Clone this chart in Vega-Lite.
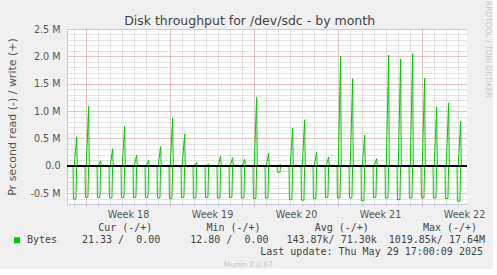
{
  "$schema": "https://vega.github.io/schema/vega-lite/v6.json",
  "background": "#F0F0F0",
  "padding": {"left": 6, "top": 1, "right": 0, "bottom": 0},
  "title": {"text": "Disk throughput for /dev/sdc - by month", "font": "DejaVu Sans", "fontSize": 12.5, "fontWeight": "normal", "color": "#444444", "anchor": "middle", "baseline": "alphabetic", "offset": -36},
  "config": {"view": {"stroke": null}, "font": "DejaVu Sans"},
  "spacing": 4,
  "vconcat": [
    {
      "width": 400,
      "height": 175,
      "view": {"fill": "white", "stroke": null},
      "title": {"text": "RRDTOOL / TOBI OETIKER", "orient": "right", "anchor": "start", "fontSize": 7.5, "fontWeight": "normal", "color": "#C8C8C8", "offset": 0, "dx": -23},
      "data": {"values": [
        {"t": -1.583, "s": "read", "v": 0}, {"t": -1.583, "s": "write", "v": 0},
        {"t": 31.75, "s": "read", "v": 0}, {"t": 31.75, "s": "write", "v": 0},
        {"t": -1.08, "s": "read", "v": 0}, {"t": -1.05, "s": "read", "v": -610000}, {"t": -0.84, "s": "read", "v": -610000}, {"t": -0.78, "s": "read", "v": 0},
        {"t": -0.98, "s": "write", "v": 0}, {"t": -0.78, "s": "write", "v": 530000}, {"t": -0.73, "s": "write", "v": 0},
        {"t": -0.08, "s": "read", "v": 0}, {"t": -0.05, "s": "read", "v": -580000}, {"t": 0.16, "s": "read", "v": -580000}, {"t": 0.22, "s": "read", "v": 0},
        {"t": 0.02, "s": "write", "v": 0}, {"t": 0.22, "s": "write", "v": 1085000}, {"t": 0.27, "s": "write", "v": 0},
        {"t": 0.92, "s": "read", "v": 0}, {"t": 0.95, "s": "read", "v": -580000}, {"t": 1.16, "s": "read", "v": -580000}, {"t": 1.22, "s": "read", "v": 0},
        {"t": 1.02, "s": "write", "v": 0}, {"t": 1.22, "s": "write", "v": 90000}, {"t": 1.27, "s": "write", "v": 0},
        {"t": 1.92, "s": "read", "v": 0}, {"t": 1.95, "s": "read", "v": -590000}, {"t": 2.16, "s": "read", "v": -590000}, {"t": 2.22, "s": "read", "v": 0},
        {"t": 2.02, "s": "write", "v": 0}, {"t": 2.22, "s": "write", "v": 310000}, {"t": 2.27, "s": "write", "v": 0},
        {"t": 2.92, "s": "read", "v": 0}, {"t": 2.95, "s": "read", "v": -580000}, {"t": 3.16, "s": "read", "v": -580000}, {"t": 3.22, "s": "read", "v": 0},
        {"t": 3.02, "s": "write", "v": 0}, {"t": 3.22, "s": "write", "v": 720000}, {"t": 3.27, "s": "write", "v": 0},
        {"t": 3.92, "s": "read", "v": 0}, {"t": 3.95, "s": "read", "v": -580000}, {"t": 4.16, "s": "read", "v": -580000}, {"t": 4.22, "s": "read", "v": 0},
        {"t": 4.02, "s": "write", "v": 0}, {"t": 4.22, "s": "write", "v": 190000}, {"t": 4.27, "s": "write", "v": 0},
        {"t": 4.92, "s": "read", "v": 0}, {"t": 4.95, "s": "read", "v": -580000}, {"t": 5.16, "s": "read", "v": -580000}, {"t": 5.22, "s": "read", "v": 0},
        {"t": 5.02, "s": "write", "v": 0}, {"t": 5.22, "s": "write", "v": 100000}, {"t": 5.27, "s": "write", "v": 0},
        {"t": 5.92, "s": "read", "v": 0}, {"t": 5.95, "s": "read", "v": -590000}, {"t": 6.16, "s": "read", "v": -590000}, {"t": 6.22, "s": "read", "v": 0},
        {"t": 6.02, "s": "write", "v": 0}, {"t": 6.22, "s": "write", "v": 350000}, {"t": 6.27, "s": "write", "v": 0},
        {"t": 6.92, "s": "read", "v": 0}, {"t": 6.95, "s": "read", "v": -600000}, {"t": 7.16, "s": "read", "v": -600000}, {"t": 7.22, "s": "read", "v": 0},
        {"t": 7.02, "s": "write", "v": 0}, {"t": 7.22, "s": "write", "v": 870000}, {"t": 7.27, "s": "write", "v": 0},
        {"t": 7.92, "s": "read", "v": 0}, {"t": 7.95, "s": "read", "v": -580000}, {"t": 8.16, "s": "read", "v": -580000}, {"t": 8.22, "s": "read", "v": 0},
        {"t": 8.02, "s": "write", "v": 0}, {"t": 8.22, "s": "write", "v": 580000}, {"t": 8.27, "s": "write", "v": 0},
        {"t": 8.92, "s": "read", "v": 0}, {"t": 8.95, "s": "read", "v": -590000}, {"t": 9.16, "s": "read", "v": -590000}, {"t": 9.22, "s": "read", "v": 0},
        {"t": 9.02, "s": "write", "v": 0}, {"t": 9.22, "s": "write", "v": 60000}, {"t": 9.27, "s": "write", "v": 0},
        {"t": 9.92, "s": "read", "v": 0}, {"t": 9.95, "s": "read", "v": -580000}, {"t": 10.16, "s": "read", "v": -580000}, {"t": 10.22, "s": "read", "v": 0},
        {"t": 10.02, "s": "write", "v": 0}, {"t": 10.22, "s": "write", "v": 30000}, {"t": 10.27, "s": "write", "v": 0},
        {"t": 10.92, "s": "read", "v": 0}, {"t": 10.95, "s": "read", "v": -590000}, {"t": 11.16, "s": "read", "v": -590000}, {"t": 11.22, "s": "read", "v": 0},
        {"t": 11.02, "s": "write", "v": 0}, {"t": 11.22, "s": "write", "v": 180000}, {"t": 11.27, "s": "write", "v": 0},
        {"t": 11.92, "s": "read", "v": 0}, {"t": 11.95, "s": "read", "v": -580000}, {"t": 12.16, "s": "read", "v": -580000}, {"t": 12.22, "s": "read", "v": 0},
        {"t": 12.02, "s": "write", "v": 0}, {"t": 12.22, "s": "write", "v": 150000}, {"t": 12.27, "s": "write", "v": 0},
        {"t": 12.92, "s": "read", "v": 0}, {"t": 12.95, "s": "read", "v": -590000}, {"t": 13.16, "s": "read", "v": -590000}, {"t": 13.22, "s": "read", "v": 0},
        {"t": 13.02, "s": "write", "v": 0}, {"t": 13.22, "s": "write", "v": 120000}, {"t": 13.27, "s": "write", "v": 0},
        {"t": 13.92, "s": "read", "v": 0}, {"t": 13.95, "s": "read", "v": -600000}, {"t": 14.16, "s": "read", "v": -600000}, {"t": 14.22, "s": "read", "v": 0},
        {"t": 14.02, "s": "write", "v": 0}, {"t": 14.22, "s": "write", "v": 1250000}, {"t": 14.27, "s": "write", "v": 0},
        {"t": 14.92, "s": "read", "v": 0}, {"t": 14.95, "s": "read", "v": -590000}, {"t": 15.16, "s": "read", "v": -590000}, {"t": 15.22, "s": "read", "v": 0},
        {"t": 15.02, "s": "write", "v": 0}, {"t": 15.22, "s": "write", "v": 230000}, {"t": 15.27, "s": "write", "v": 0},
        {"t": 15.92, "s": "read", "v": 0}, {"t": 15.95, "s": "read", "v": -120000}, {"t": 16.16, "s": "read", "v": -120000}, {"t": 16.22, "s": "read", "v": 0},
        {"t": 16.02, "s": "write", "v": 0}, {"t": 16.22, "s": "write", "v": 20000}, {"t": 16.27, "s": "write", "v": 0},
        {"t": 16.92, "s": "read", "v": 0}, {"t": 16.95, "s": "read", "v": -620000}, {"t": 17.16, "s": "read", "v": -620000}, {"t": 17.22, "s": "read", "v": 0},
        {"t": 17.02, "s": "write", "v": 0}, {"t": 17.22, "s": "write", "v": 690000}, {"t": 17.27, "s": "write", "v": 0},
        {"t": 17.92, "s": "read", "v": 0}, {"t": 17.95, "s": "read", "v": -630000}, {"t": 18.16, "s": "read", "v": -630000}, {"t": 18.22, "s": "read", "v": 0},
        {"t": 18.02, "s": "write", "v": 0}, {"t": 18.22, "s": "write", "v": 840000}, {"t": 18.27, "s": "write", "v": 0},
        {"t": 18.92, "s": "read", "v": 0}, {"t": 18.95, "s": "read", "v": -600000}, {"t": 19.16, "s": "read", "v": -600000}, {"t": 19.22, "s": "read", "v": 0},
        {"t": 19.02, "s": "write", "v": 0}, {"t": 19.22, "s": "write", "v": 250000}, {"t": 19.27, "s": "write", "v": 0},
        {"t": 19.92, "s": "read", "v": 0}, {"t": 19.95, "s": "read", "v": -580000}, {"t": 20.16, "s": "read", "v": -580000}, {"t": 20.22, "s": "read", "v": 0},
        {"t": 20.02, "s": "write", "v": 0}, {"t": 20.22, "s": "write", "v": 160000}, {"t": 20.27, "s": "write", "v": 0},
        {"t": 20.92, "s": "read", "v": 0}, {"t": 20.95, "s": "read", "v": -590000}, {"t": 21.16, "s": "read", "v": -590000}, {"t": 21.22, "s": "read", "v": 0},
        {"t": 21.02, "s": "write", "v": 0}, {"t": 21.22, "s": "write", "v": 2000000}, {"t": 21.27, "s": "write", "v": 0},
        {"t": 21.92, "s": "read", "v": 0}, {"t": 21.95, "s": "read", "v": -590000}, {"t": 22.16, "s": "read", "v": -590000}, {"t": 22.22, "s": "read", "v": 0},
        {"t": 22.02, "s": "write", "v": 0}, {"t": 22.22, "s": "write", "v": 1590000}, {"t": 22.27, "s": "write", "v": 0},
        {"t": 22.92, "s": "read", "v": 0}, {"t": 22.95, "s": "read", "v": -640000}, {"t": 23.16, "s": "read", "v": -640000}, {"t": 23.22, "s": "read", "v": 0},
        {"t": 23.02, "s": "write", "v": 0}, {"t": 23.22, "s": "write", "v": 560000}, {"t": 23.27, "s": "write", "v": 0},
        {"t": 23.92, "s": "read", "v": 0}, {"t": 23.95, "s": "read", "v": -580000}, {"t": 24.16, "s": "read", "v": -580000}, {"t": 24.22, "s": "read", "v": 0},
        {"t": 24.02, "s": "write", "v": 0}, {"t": 24.22, "s": "write", "v": 130000}, {"t": 24.27, "s": "write", "v": 0},
        {"t": 24.92, "s": "read", "v": 0}, {"t": 24.95, "s": "read", "v": -590000}, {"t": 25.16, "s": "read", "v": -590000}, {"t": 25.22, "s": "read", "v": 0},
        {"t": 25.02, "s": "write", "v": 0}, {"t": 25.22, "s": "write", "v": 2020000}, {"t": 25.27, "s": "write", "v": 0},
        {"t": 25.92, "s": "read", "v": 0}, {"t": 25.95, "s": "read", "v": -620000}, {"t": 26.16, "s": "read", "v": -620000}, {"t": 26.22, "s": "read", "v": 0},
        {"t": 26.02, "s": "write", "v": 0}, {"t": 26.22, "s": "write", "v": 1950000}, {"t": 26.27, "s": "write", "v": 0},
        {"t": 26.92, "s": "read", "v": 0}, {"t": 26.95, "s": "read", "v": -590000}, {"t": 27.16, "s": "read", "v": -590000}, {"t": 27.22, "s": "read", "v": 0},
        {"t": 27.02, "s": "write", "v": 0}, {"t": 27.22, "s": "write", "v": 2050000}, {"t": 27.27, "s": "write", "v": 0},
        {"t": 27.92, "s": "read", "v": 0}, {"t": 27.95, "s": "read", "v": -590000}, {"t": 28.16, "s": "read", "v": -590000}, {"t": 28.22, "s": "read", "v": 0},
        {"t": 28.02, "s": "write", "v": 0}, {"t": 28.22, "s": "write", "v": 1600000}, {"t": 28.27, "s": "write", "v": 0},
        {"t": 28.92, "s": "read", "v": 0}, {"t": 28.95, "s": "read", "v": -590000}, {"t": 29.16, "s": "read", "v": -590000}, {"t": 29.22, "s": "read", "v": 0},
        {"t": 29.02, "s": "write", "v": 0}, {"t": 29.22, "s": "write", "v": 1070000}, {"t": 29.27, "s": "write", "v": 0},
        {"t": 29.92, "s": "read", "v": 0}, {"t": 29.95, "s": "read", "v": -600000}, {"t": 30.16, "s": "read", "v": -600000}, {"t": 30.22, "s": "read", "v": 0},
        {"t": 30.02, "s": "write", "v": 0}, {"t": 30.22, "s": "write", "v": 1150000}, {"t": 30.27, "s": "write", "v": 0},
        {"t": 30.92, "s": "read", "v": 0}, {"t": 30.95, "s": "read", "v": -650000}, {"t": 31.16, "s": "read", "v": -650000}, {"t": 31.22, "s": "read", "v": 0},
        {"t": 31.02, "s": "write", "v": 0}, {"t": 31.22, "s": "write", "v": 820000}, {"t": 31.27, "s": "write", "v": 0}
      ]},
      "resolve": {"axis": {"x": "independent", "y": "independent"}},
      "layer": [
        {
          "transform": [{"filter": "datum.s == 'read'"}],
          "mark": {"type": "line", "color": "#00CC00", "strokeWidth": 1, "clip": true},
          "encoding": {
            "x": {"field": "t", "type": "quantitative", "scale": {"domain": [-1.583, 31.75], "nice": false, "zero": false},
                  "axis": {"orient": "bottom", "values": [-1,0,1,2,3,4,5,6,7,8,9,10,11,12,13,14,15,16,17,18,19,20,21,22,23,24,25,26,27,28,29,30,31],
                           "grid": true, "gridColor": "#C8C8C8", "gridDash": [1, 1], "gridOpacity": 1, "labels": false, "ticks": true, "tickColor": "#C8C8C8", "tickSize": 2, "domain": false, "title": null}},
            "y": {"field": "v", "type": "quantitative", "scale": {"domain": [-700000, 2500000], "nice": false, "zero": false},
                  "axis": {"orient": "left", "values": [-700000,-600000,-500000,-400000,-300000,-200000,-100000,0,100000,200000,300000,400000,500000,600000,700000,800000,900000,1000000,1100000,1200000,1300000,1400000,1500000,1600000,1700000,1800000,1900000,2000000,2100000,2200000,2300000,2400000,2500000],
                           "grid": true, "gridColor": "#C8C8C8", "gridDash": [1, 1], "gridOpacity": 1, "labels": false, "ticks": false, "domain": false, "title": null}}
          }
        },
        {
          "transform": [{"filter": "datum.s == 'write'"}],
          "mark": {"type": "line", "color": "#00CC00", "strokeWidth": 1, "clip": true},
          "encoding": {
            "x": {"field": "t", "type": "quantitative", "scale": {"domain": [-1.583, 31.75], "nice": false, "zero": false},
                  "axis": {"orient": "bottom", "values": [0, 7, 14, 21, 28], "grid": true, "gridColor": "#E8A0A0", "gridDash": [1, 1], "gridOpacity": 1, "labels": false, "ticks": true, "tickColor": "#E8A0A0", "tickSize": 2, "domain": true, "domainColor": "#C8C8F0", "title": null}},
            "y": {"field": "v", "type": "quantitative", "scale": {"domain": [-700000, 2500000], "nice": false, "zero": false},
                  "axis": {"orient": "left", "values": [-500000, 0, 500000, 1000000, 1500000, 2000000, 2500000], "grid": true, "gridColor": "#E8A0A0", "gridDash": [1, 1], "gridOpacity": 1,
                           "ticks": false, "domain": true, "domainColor": "#C8C8F0",
                           "labelExpr": "datum.value == 0 ? '0.0' : (datum.value < 0 ? '-' : '') + format(abs(datum.value) / 1000000, '.1f') + ' M'",
                           "labelFont": "DejaVu Sans", "labelFontSize": 9.6, "labelColor": "#555555", "labelPadding": 7,
                           "title": "Pr second read (-) / write (+)", "titleFont": "DejaVu Sans", "titleFontSize": 11, "titleFontWeight": "normal", "titleColor": "#555555", "titlePadding": 12}}
          }
        },
        {
          "mark": {"type": "rule", "color": "#000000", "strokeWidth": 1},
          "encoding": {
            "x": {"datum": -1.583, "type": "quantitative", "scale": {"domain": [-1.583, 31.75], "nice": false, "zero": false},
                  "axis": {"orient": "bottom", "values": [3.5, 10.5, 17.5, 24.5, 31.5], "grid": false, "ticks": false, "domain": false,
                           "labelExpr": "'Week ' + (18 + round((datum.value - 3.5) / 7))", "labelFont": "DejaVu Sans", "labelFontSize": 9.6, "labelColor": "#555555", "labelPadding": 5, "title": null}},
            "x2": {"datum": 31.75},
            "y": {"datum": 0, "type": "quantitative", "scale": {"domain": [-700000, 2500000], "nice": false, "zero": false}, "axis": null}
          }
        }
      ]
    },
    {
      "width": 400,
      "height": 36.6,
      "data": {"values": [
        {"row": "hdr", "c": 1, "text": "Cur (-/+)"},
        {"row": "hdr", "c": 2, "text": "Min (-/+)"},
        {"row": "hdr", "c": 3, "text": "Avg (-/+)"},
        {"row": "hdr", "c": 4, "text": "Max (-/+)"},
        {"row": "val", "c": 0, "text": "Bytes"},
        {"row": "val", "c": 1, "text": "21.33 / \u00a00.00"},
        {"row": "val", "c": 2, "text": "12.80 / \u00a00.00"},
        {"row": "val", "c": 3, "text": "143.87k/ 71.30k"},
        {"row": "val", "c": 4, "text": "1019.85k/ 17.64M"},
        {"row": "upd", "c": 4, "text": "Last update: Thu May 29 17:00:09 2025"},
        {"row": "ver", "c": 2, "text": "Munin 2.0.67"}
      ]},
      "encoding": {
        "x": {"field": "c", "type": "quantitative", "scale": {"domain": [0.4619, 4.157], "nice": false, "zero": false}, "axis": null},
        "y": {"field": "row", "type": "ordinal", "scale": {"type": "point", "domain": ["hdr", "val", "upd", "ver"], "padding": 0}, "axis": null}
      },
      "layer": [
        {"transform": [{"filter": "datum.row == 'hdr'"}],
         "mark": {"type": "text", "font": "DejaVu Sans Mono", "fontSize": 10, "color": "#444444", "align": "center", "baseline": "middle"},
         "encoding": {"text": {"field": "text"}}},
        {"transform": [{"filter": "datum.row == 'val' && datum.c > 0"}],
         "mark": {"type": "text", "font": "DejaVu Sans Mono", "fontSize": 10, "color": "#444444", "align": "right", "baseline": "middle", "dx": 35},
         "encoding": {"text": {"field": "text"}}},
        {"transform": [{"filter": "datum.row == 'val' && datum.c == 0"}],
         "mark": {"type": "text", "font": "DejaVu Sans Mono", "fontSize": 10, "color": "#444444", "align": "left", "baseline": "middle", "dx": 10},
         "encoding": {"text": {"field": "text"}}},
        {"transform": [{"filter": "datum.row == 'val' && datum.c == 0"}],
         "mark": {"type": "square", "size": 36, "color": "#00CC00", "filled": true, "opacity": 1}},
        {"transform": [{"filter": "datum.row == 'upd'"}],
         "mark": {"type": "text", "font": "DejaVu Sans Mono", "fontSize": 10, "color": "#444444", "align": "right", "baseline": "middle", "dx": 33},
         "encoding": {"text": {"field": "text"}}},
        {"transform": [{"filter": "datum.row == 'ver'"}],
         "mark": {"type": "text", "font": "DejaVu Sans", "fontSize": 7.5, "color": "#C8C8C8", "align": "center", "baseline": "middle", "dx": 15},
         "encoding": {"text": {"field": "text"}}}
      ]
    }
  ]
}
